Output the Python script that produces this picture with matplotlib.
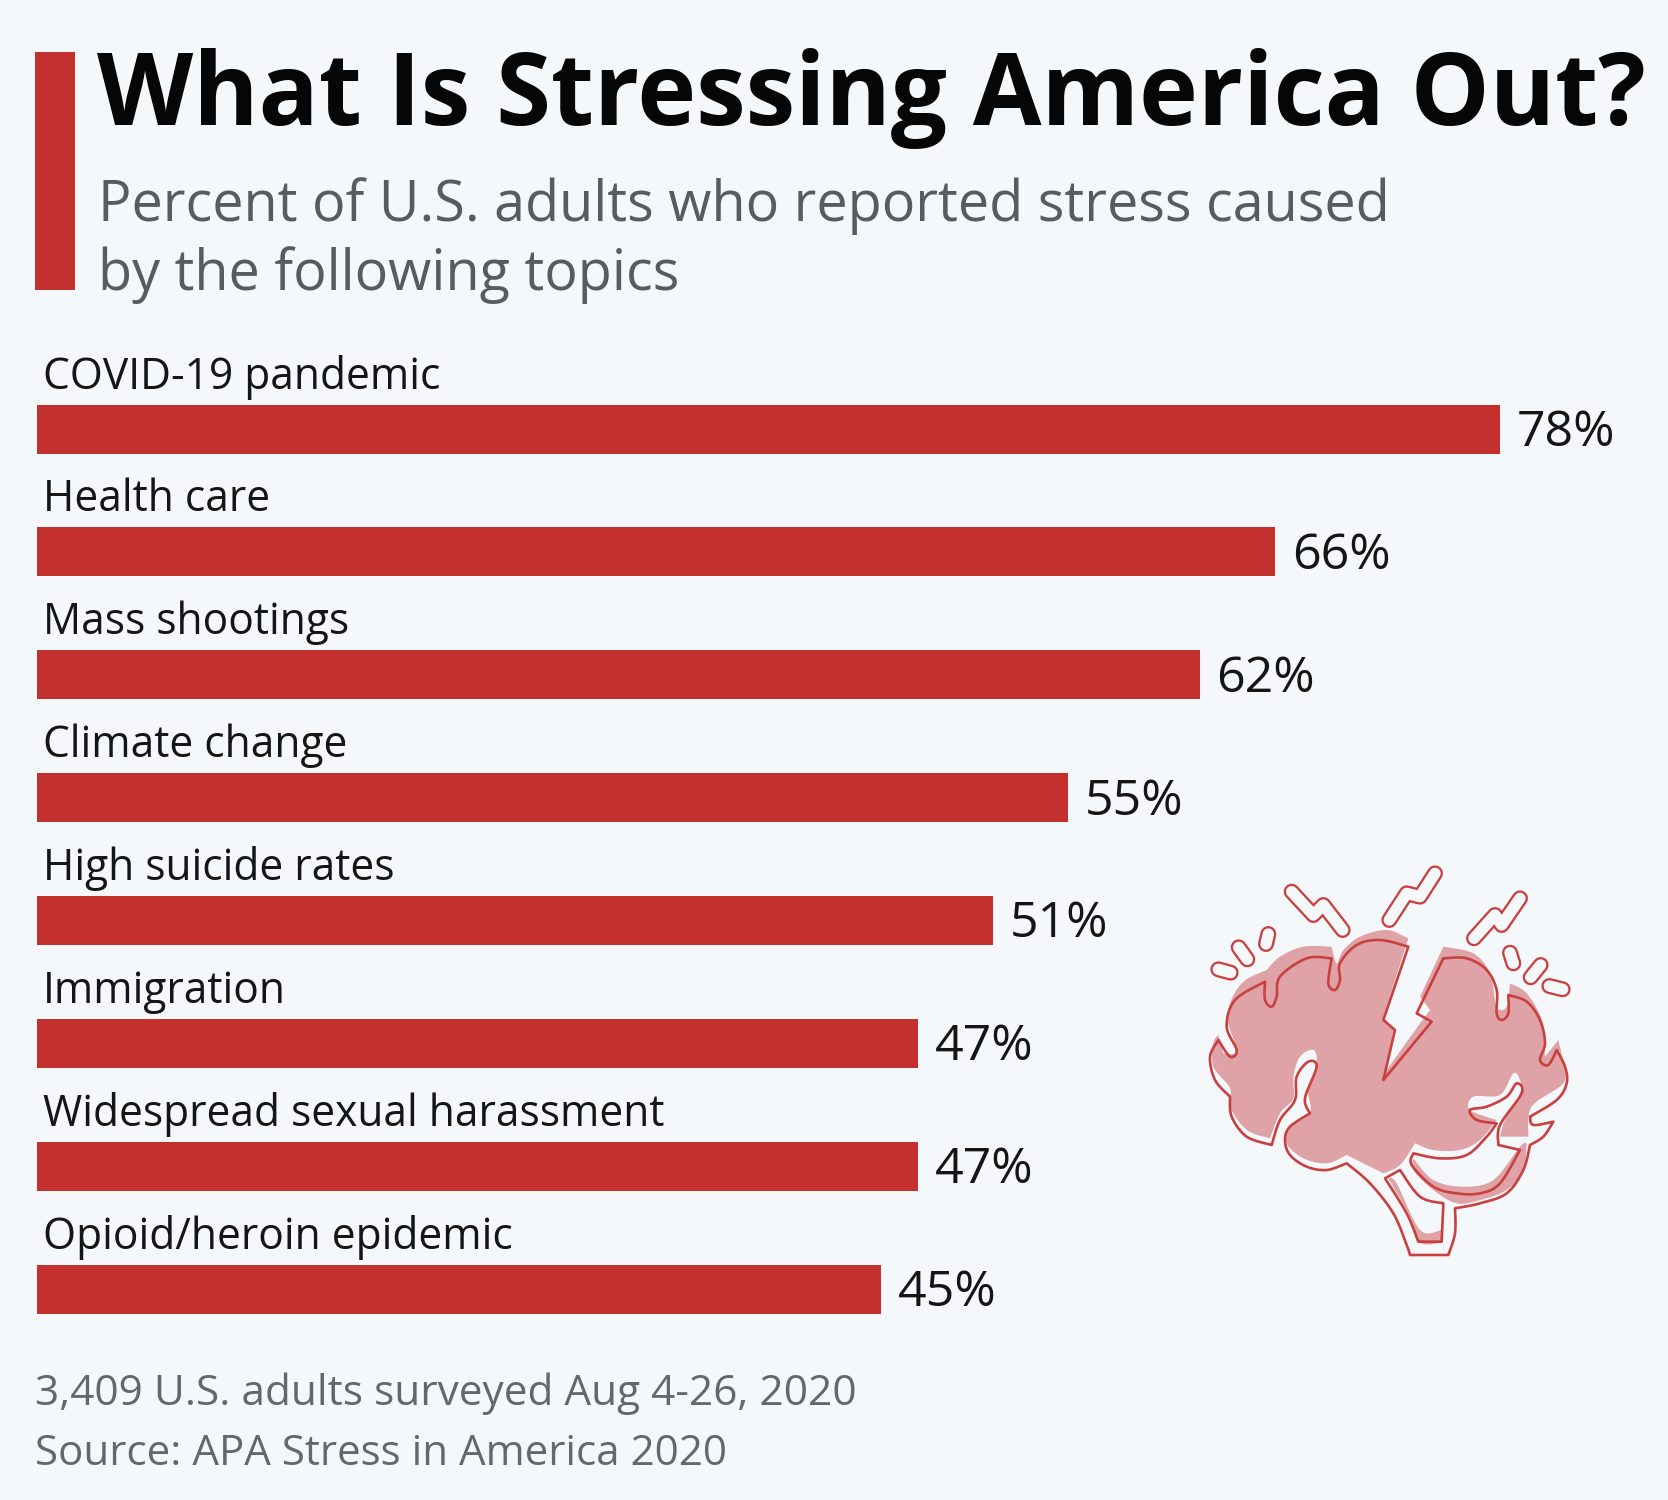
import numpy as np
import matplotlib
matplotlib.use("Agg")
import matplotlib.pyplot as plt
from matplotlib.patches import Polygon, Rectangle

W, H, DPI = 1668, 1500, 100
BG = "#f5f8fb"
RED = "#c4302e"
LINE = "#c8403f"
FILL = "#dfa3a7"

title = "What Is Stressing America Out?"
subtitle = ["Percent of U.S. adults who reported stress caused", "by the following topics"]
categories = ["COVID-19 pandemic", "Health care", "Mass shootings", "Climate change",
              "High suicide rates", "Immigration", "Widespread sexual harassment",
              "Opioid/heroin epidemic"]
values = [78, 66, 62, 55, 51, 47, 47, 45]
footer = ["3,409 U.S. adults surveyed Aug 4-26, 2020", "Source: APA Stress in America 2020"]

plt.rcParams["font.family"] = ["Open Sans", "DejaVu Sans"]
fig = plt.figure(figsize=(W / DPI, H / DPI), dpi=DPI, facecolor=BG)


def px(x, y):
    return x / W, 1 - y / H


# Bars
PX_PER_PCT = 18.76
ROW = 122.86
FIRST = 429.0
LEFT = 36.5
ax = fig.add_axes([LEFT / W, 0, 1 - LEFT / W, 1])
ax.set_xlim(0, (W - LEFT) / PX_PER_PCT)
ax.set_ylim((H - FIRST) / ROW, -FIRST / ROW)
ax.axis("off")
pos = np.arange(len(values))
ax.barh(pos, values, height=49 / ROW, color=RED, linewidth=0)
for p, v, c in zip(pos, values, categories):
    ax.annotate(f"{v}%", (v, p), xytext=(17 * 0.72, -17 * 0.72), textcoords="offset points",
                ha="left", va="baseline", fontsize=36, color="#151515")
    ax.annotate(c, (0, p), xytext=(6.5 * 0.72, 40.5 * 0.72), textcoords="offset points",
                ha="left", va="baseline", fontsize=30.65, color="#151515")

# Header
fig.add_artist(Rectangle(px(34.7, 290), 40 / W, 238 / H, transform=fig.transFigure,
                         facecolor=RED, edgecolor="none"))
fig.text(*px(97, 125), title, fontsize=71.65, fontweight="bold", color="#060606", ha="left", va="baseline")
fig.text(*px(98, 221), subtitle[0], fontsize=40.15, color="#565c61", ha="left", va="baseline")
fig.text(*px(98, 290), subtitle[1], fontsize=40.15, color="#565c61", ha="left", va="baseline")
fig.text(*px(35, 1405), footer[0], fontsize=30.5, color="#63686c", ha="left", va="baseline")
fig.text(*px(35, 1465), footer[1], fontsize=30.3, color="#63686c", ha="left", va="baseline")

# Brain icon, in the pixel frame of a 3x crop
icon = fig.add_axes([1180 / W, 1 - (850 + 430) / H, 420 / W, 430 / H])
icon.set_xlim(0, 1260)
icon.set_ylim(1290, 0)
icon.axis("off")
icon.patch.set_alpha(0)


def smooth(pts, sharp=(), n=10):
    """Closed Catmull-Rom curve through pts; vertices listed in sharp stay corners."""
    sharp = set(sharp)
    p = np.array(pts, float)
    m = len(p)
    out = []
    for i in range(m):
        p1, p2 = p[i], p[(i + 1) % m]
        p0 = p1 if tuple(pts[i]) in sharp else p[i - 1]
        p3 = p2 if tuple(pts[(i + 1) % m]) in sharp else p[(i + 2) % m]
        for t in np.linspace(0, 1, n, endpoint=False):
            out.append(0.5 * (2 * p1 + (p2 - p0) * t + (2 * p0 - 5 * p1 + 4 * p2 - p3) * t ** 2
                              + (3 * p1 - p0 - 3 * p2 + p3) * t ** 3))
    return np.array(out)


fill_main = [(685, 265), (620, 240), (540, 260), (490, 300), (470, 340), (455, 290), (370, 290), (300, 320),
             (260, 360), (190, 395), (150, 460), (145, 520), (165, 580), (165, 610), (130, 610), (115, 555),
             (100, 580), (100, 650), (150, 715), (150, 770), (200, 840), (270, 865), (300, 790), (340, 745),
             (340, 680), (360, 620), (400, 600), (410, 640), (385, 720), (390, 790), (330, 830), (320, 880),
             (370, 925), (440, 940), (500, 915), (610, 970), (660, 945), (705, 880), (760, 900), (840, 900),
             (900, 870), (950, 810), (870, 780), (880, 740), (960, 735), (1000, 670), (1020, 690), (1020, 730),
             (975, 810), (960, 860), (1045, 860), (1055, 770), (1150, 700), (1150, 640), (1135, 570),
             (1095, 620), (1085, 510), (1040, 430), (990, 400), (980, 470), (950, 470), (930, 370), (880, 310),
             (790, 290), (720, 440), (750, 480), (720, 520), (620, 660), (640, 540), (610, 500)]
fill_sharp = [(685, 265), (790, 290), (720, 440), (750, 480), (720, 520), (620, 660), (640, 540), (610, 500),
              (115, 555), (130, 610), (1135, 570), (1095, 620), (990, 400), (455, 290), (260, 360), (270, 865),
              (610, 970), (705, 880), (950, 810), (960, 860), (1045, 860), (500, 915)]
fill_crescent = [(700, 925), (760, 990), (850, 1010), (940, 990), (1020, 890), (1040, 880), (1030, 960),
                 (980, 1020), (900, 1050), (830, 1060), (760, 1020), (700, 960)]
fill_stem = [(625, 985), (650, 1000), (720, 1140), (785, 1140), (785, 1178), (720, 1178), (690, 1100)]
outline_main = [(685, 290), (610, 510), (645, 540), (610, 690), (755, 515), (710, 490), (790, 325), (860, 325),
                (920, 360), (950, 420), (950, 490), (965, 510), (985, 490), (985, 435), (1040, 455), (1080, 510),
                (1095, 580), (1080, 630), (1105, 645), (1130, 600), (1155, 650), (1160, 700), (1130, 750),
                (1050, 800), (1060, 825), (1120, 815), (1090, 860), (1050, 885), (1030, 960), (980, 1030),
                (900, 1060), (825, 1075), (825, 1150), (805, 1215), (690, 1215), (680, 1185), (640, 1090),
                (570, 1000), (500, 940), (440, 960), (380, 950), (330, 915), (315, 870), (330, 830), (390, 790),
                (375, 745), (410, 650), (385, 635), (350, 680), (345, 750), (300, 810), (275, 885), (200, 860),
                (155, 800), (150, 740), (105, 690), (90, 620), (115, 570), (150, 620), (170, 600), (140, 530),
                (165, 450), (255, 395), (255, 450), (275, 470), (290, 440), (300, 380), (380, 325), (455, 325),
                (445, 400), (465, 420), (480, 390), (480, 340), (530, 285), (600, 270)]
outline_sharp = [(685, 290), (610, 510), (645, 540), (610, 690), (755, 515), (710, 490), (790, 325), (985, 435),
                 (1130, 600), (1120, 815), (1050, 885), (825, 1075), (805, 1215), (690, 1215), (500, 940),
                 (275, 885), (115, 570), (255, 395), (455, 325), (390, 790), (1050, 800), (150, 740)]
outline_stem = [(615, 985), (660, 960), (720, 1040), (790, 1060), (785, 1175), (715, 1175), (680, 1090)]
stem_sharp = [(615, 985), (660, 960), (790, 1060), (785, 1175), (715, 1175)]
outline_lobe = [(700, 910), (695, 945), (760, 1010), (830, 1030), (900, 1030), (960, 1000), (1020, 900), (955, 885),
                (960, 825), (1025, 730), (1010, 700), (980, 740), (920, 770), (870, 780), (890, 810), (950, 820),
                (920, 860), (860, 915), (780, 925)]
lobe_sharp = [(700, 910), (1020, 900), (955, 885), (950, 820)]
capsules = [[(335, 125), (400, 195), (430, 165), (488, 240)],
            [(628, 210), (680, 130), (720, 140), (765, 70)],
            [(882, 265), (945, 195), (965, 225), (1020, 145)],
            [(115, 358), (152, 368)], [(176, 292), (202, 328)], [(265, 252), (258, 282)],
            [(990, 308), (1000, 340)], [(1082, 345), (1052, 382)], [(1108, 408), (1148, 418)]]

for pts, sh in ((fill_main, fill_sharp), (fill_crescent, [(700, 925), (1040, 880)]),
                (fill_stem, [(625, 985), (785, 1140), (785, 1178)])):
    icon.add_patch(Polygon(smooth(pts, sh), closed=True, facecolor=FILL, edgecolor="none"))
for pts, sh in ((outline_main, outline_sharp), (outline_stem, stem_sharp), (outline_lobe, lobe_sharp)):
    icon.add_patch(Polygon(smooth(pts, sh), closed=True, facecolor="none", edgecolor=LINE,
                           linewidth=1.9, joinstyle="round"))
for pts in capsules:
    xs, ys = zip(*pts)
    icon.plot(xs, ys, color=LINE, lw=11.5, solid_capstyle="round", solid_joinstyle="round")
    icon.plot(xs, ys, color=BG, lw=8.2, solid_capstyle="round", solid_joinstyle="round")

fig.savefig("out.png", dpi=DPI, facecolor=BG)
